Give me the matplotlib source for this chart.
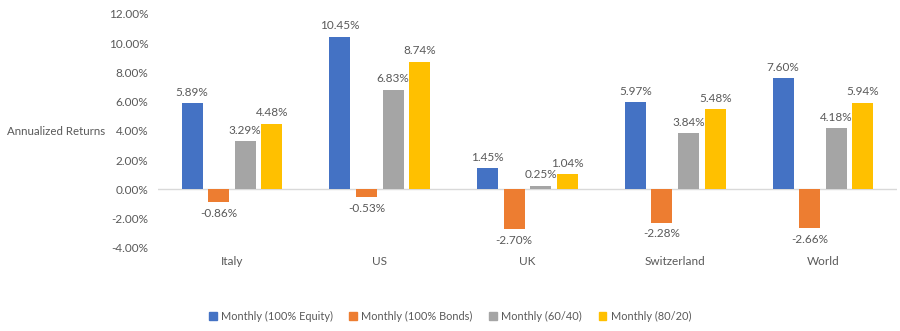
import numpy as np
import matplotlib
matplotlib.use("Agg")
import matplotlib.pyplot as plt
from matplotlib.patches import Patch

plt.rcParams['font.family'] = ['Lato', 'DejaVu Sans']

### data

countries = ['Italy', 'US', 'UK', 'Switzerland', 'World']
series_names = ['Monthly (100% Equity)', 'Monthly (100% Bonds)',
                'Monthly (60/40)', 'Monthly (80/20)']
equity = [5.89, 10.45, 1.45, 5.97, 7.60]
bonds = [-0.86, -0.53, -2.70, -2.28, -2.66]
mix_60_40 = [3.29, 6.83, 0.25, 3.84, 4.18]
mix_80_20 = [4.48, 8.74, 1.04, 5.48, 5.94]
y_ticks = [-4, -2, 0, 2, 4, 6, 8, 10, 12]

colors = ['#4472C4', '#ED7D31', '#A5A5A5', '#FFC000']
text_color = '#595959'

fig = plt.figure(figsize=(9, 3.31), dpi=100)
ax = fig.add_axes([0.1756, 0.2508, 0.821, 0.707])

x = np.arange(len(countries))
step = 0.18
width = 0.142
all_series = [equity, bonds, mix_60_40, mix_80_20]
for i, (vals, c) in enumerate(zip(all_series, colors)):
    pos = x + (i - 1.5) * step
    bars = ax.bar(pos, vals, width, color=c, label=series_names[i])
    for b, v in zip(bars, vals):
        if v >= 0:
            ax.annotate('%.2f%%' % v, (b.get_x() + b.get_width() / 2, v),
                        xytext=(0, 4), textcoords='offset points',
                        ha='center', va='bottom', fontsize=8.5, color=text_color)
        else:
            ax.annotate('%.2f%%' % v, (b.get_x() + b.get_width() / 2, v),
                        xytext=(0, -4), textcoords='offset points',
                        ha='center', va='top', fontsize=8.5, color=text_color)

ax.set_xlim(-0.5, len(countries) - 0.5)
ax.set_ylim(-4, 12)
ax.axhline(0, color='#D9D9D9', lw=1, zorder=0)
for s in ax.spines.values():
    s.set_visible(False)

ax.set_yticks(y_ticks)
ax.set_yticklabels(['%.2f%%' % t for t in y_ticks])
ax.set_xticks(x)
ax.set_xticklabels(countries)
ax.tick_params(axis='both', length=0, labelsize=8.5, colors=text_color)
ax.tick_params(axis='y', pad=7)
ax.tick_params(axis='x', pad=6)

fig.text(0.008, 0.604, 'Annualized Returns', ha='left', va='center',
         fontsize=8.3, color=text_color)

handles = [Patch(color=c) for c in colors]
fig.legend(handles, series_names, loc='center', bbox_to_anchor=(0.5, 0.045),
           ncol=4, frameon=False, fontsize=7.9, handlelength=0.7,
           handleheight=0.7, handletextpad=0.4, columnspacing=1.5,
           labelcolor=text_color)

fig.savefig('out.png', dpi=100)
